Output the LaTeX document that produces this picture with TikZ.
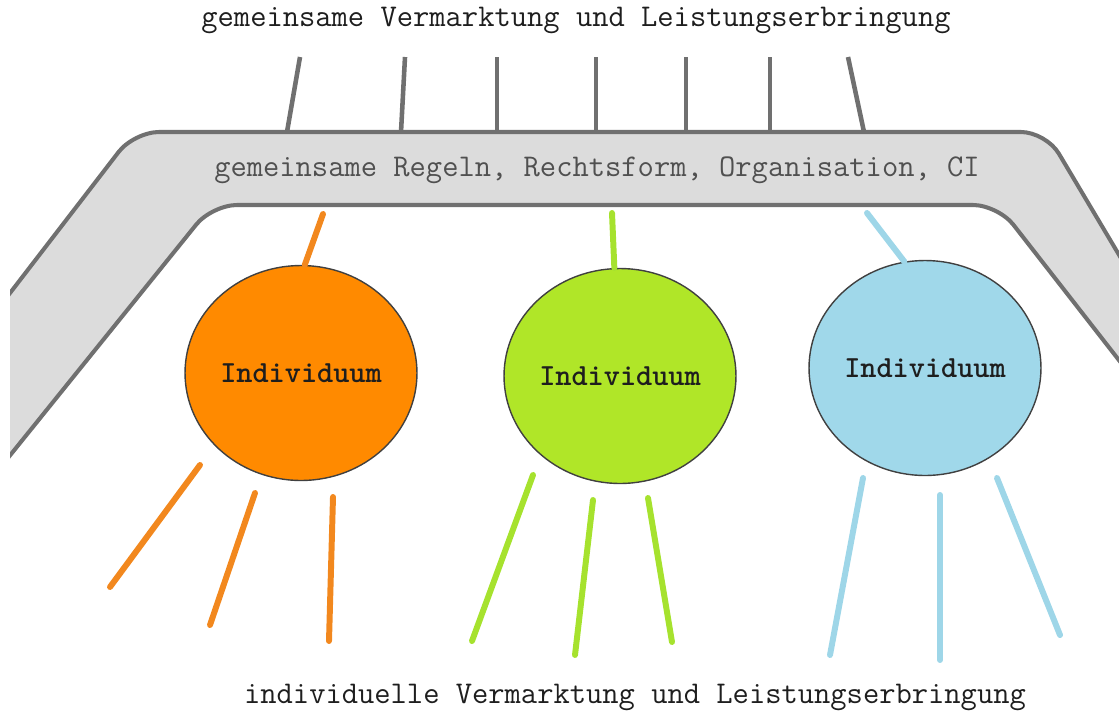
\documentclass[tikz,border=0pt]{standalone}
\usepackage{fontspec}
\usetikzlibrary{shapes.geometric}
\definecolor{BandClr}{RGB}{220,220,220}
\definecolor{EdgeClr}{RGB}{112,112,112}
\definecolor{TextClr}{RGB}{30,30,30}
\definecolor{RuleClr}{RGB}{80,80,80}
\definecolor{OrangeClr}{RGB}{255,138,0}
\definecolor{GreenClr}{RGB}{176,230,40}
\definecolor{BlueClr}{RGB}{160,216,234}
\definecolor{OrangeRay}{RGB}{242,136,30}
\definecolor{GreenRay}{RGB}{166,226,46}
\definecolor{BlueRay}{RGB}{158,214,232}

\begin{document}
\begin{tikzpicture}[x=0.02cm,y=-0.02cm,
  band/.style={EdgeClr,line width=2.3pt,rounded corners=0.5cm},
  tick/.style={EdgeClr,line width=2.6pt},
  ray/.style={line width=3.4pt,line cap=round},
  individuum/.style={ellipse,draw=black!75,line width=0.8pt,inner sep=0pt,
    minimum width=4.64cm,minimum height=4.3cm,text=TextClr,
    font=\ttfamily\fontsize{17.5}{20}\selectfont\bfseries},
  caption/.style={font=\ttfamily\fontsize{18}{20}\selectfont,inner sep=0pt}]
\useasboundingbox (0,0) rectangle (1119,714);

% common band
\begin{scope}
\clip (10,0) rectangle (1119,714);
\fill[BandClr,rounded corners=0.5cm] (-30,345) -- (134,132) -- (1046,132) -- (1150,307)
  -- (1150,400) -- (998,205) -- (212,205) -- (-30,505) -- cycle;
\draw[band] (-30,345) -- (134,132) -- (1046,132) -- (1150,307);
\draw[band] (1150,400) -- (998,205) -- (212,205) -- (-30,505);
\end{scope}

\foreach \xt/\xb [count=\i] in {300/287,405/401,497/497,596/596,686/686,770/770,848/864}{
  \coordinate (T\i) at (\xt,57); \coordinate (B\i) at (\xb,132);
  \draw[tick] (T\i) -- (B\i);}

\node[caption,text=TextClr] (gemV) at (576,20) {gemeinsame Vermarktung und Leistungserbringung};
\node[caption,text=RuleClr] (gemR) at (597,170) {gemeinsame Regeln, Rechtsform, Organisation, CI};
\node[caption,text=TextClr] (indV) at (635,697) {individuelle Vermarktung und Leistungserbringung};

% individuals
\node[individuum,fill=OrangeClr] (indA) at (301,373) {Individuum};
\node[individuum,fill=GreenClr] (indB) at (620,376) {Individuum};
\node[individuum,fill=BlueClr] (indC) at (925,368) {Individuum};

\coordinate (upA) at (323,214);
\coordinate (upB) at (612,213);
\coordinate (upC) at (867,213);
\draw[ray,OrangeRay] (indA.88) -- (upA);
\draw[ray,GreenRay] (indB.93) -- (upB);
\draw[ray,BlueRay] (indC.101) -- (upC);

\foreach \n/\p/\q/\c in {a1/{200,465}/{110,587}/OrangeRay, a2/{255,493}/{210,625}/OrangeRay,
    a3/{333,497}/{329,641}/OrangeRay, b1/{533,475}/{472,641}/GreenRay, b2/{593,500}/{575,655}/GreenRay,
    b3/{648,498}/{672,642}/GreenRay, c1/{863,478}/{830,655}/BlueRay, c2/{940,495}/{940,660}/BlueRay,
    c3/{997,478}/{1060,635}/BlueRay}{
  \coordinate (s\n) at (\p); \coordinate (e\n) at (\q);
  \draw[ray,\c] (s\n) -- (e\n);}

\end{tikzpicture}
\end{document}
